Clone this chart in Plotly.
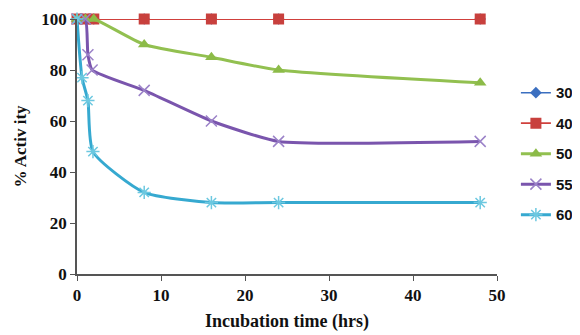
import plotly.graph_objects as go

t_a = [0, 1, 2, 8, 16, 24, 48]
v30 = [100, 100, 100, 100, 100, 100, 100]
v40 = [100, 100, 100, 100, 100, 100, 100]
v50 = [100, 100, 100, 90, 85, 80, 75]
t55 = [0, 1, 1.3, 1.8, 8, 16, 24, 48]
v55 = [100, 100, 86, 80, 72, 60, 52, 52]
t60 = [0, 0.6, 1.3, 1.9, 8, 16, 24, 48]
v60 = [100, 77, 68, 48, 32, 28, 28, 28]

x_ticks = [0, 10, 20, 30, 40, 50]
y_ticks = [0, 20, 40, 60, 80, 100]

fig = go.Figure()
fig.add_trace(go.Scatter(x=t_a, y=v30, name="<b>30</b>", legendgroup="a", mode="lines+markers",
    line=dict(color="#3b6fc0", width=1.5),
    marker=dict(symbol="diamond", size=9, color="#3b6fc0"), cliponaxis=False))
fig.add_trace(go.Scatter(x=t_a, y=v40, name="<b>40</b>", legendgroup="b", mode="lines+markers",
    line=dict(color="#d0403c", width=1.8),
    marker=dict(symbol="square", size=11, color="#c8403d"), cliponaxis=False))
fig.add_trace(go.Scatter(x=t_a, y=v50, name="<b>50</b>", legendgroup="c", mode="lines+markers",
    line=dict(color="#92c050", width=3, shape="spline", smoothing=0.6),
    marker=dict(symbol="triangle-up", size=11, color="#8cbb48"), cliponaxis=False))
fig.add_trace(go.Scatter(x=t55, y=v55, name="<b>55</b>", legendgroup="d", mode="lines+markers",
    line=dict(color="#7a55ad", width=3, shape="spline", smoothing=0.5),
    marker=dict(symbol="x-thin-open", size=11, color="#9b82c8",
                line=dict(width=1.5, color="#9b82c8")), cliponaxis=False))
fig.add_trace(go.Scatter(x=t60, y=v60, name="<b>60</b>", legendgroup="e", mode="lines+markers",
    line=dict(color="#36a9d0", width=3, shape="spline", smoothing=0.6),
    marker=dict(symbol="asterisk-open", size=11, color="#6cc8e0",
                line=dict(width=1.5, color="#6cc8e0")), cliponaxis=False))

tickfont = dict(family="Liberation Serif", size=17, color="#111")
fig.update_layout(
    width=572, height=327,
    margin=dict(l=69, r=83, t=11, b=61, autoexpand=False),
    paper_bgcolor="white", plot_bgcolor="white",
    font=dict(family="Liberation Serif", color="#111"),
    showlegend=True,
    legend=dict(x=1.045, y=0.775, xanchor="left", yanchor="top",
                font=dict(family="Liberation Sans Narrow, Liberation Sans", size=15, color="#111"),
                tracegroupgap=8, itemwidth=30, bgcolor="rgba(0,0,0,0)"),
    xaxis=dict(range=[0, 50], tickvals=x_ticks, ticktext=[f"<b>{v}</b>" for v in x_ticks],
               showgrid=False, zeroline=False, showline=True, linecolor="#555", linewidth=1.5,
               ticks="outside", ticklen=5, tickcolor="#555", tickfont=tickfont, automargin=False,
               title=dict(text="<b>Incubation time (hrs)</b>",
                          font=dict(family="Liberation Serif", size=18, color="#111"), standoff=10)),
    yaxis=dict(range=[0, 100], tickvals=y_ticks, ticktext=[f"<b>{v}</b>" for v in y_ticks],
               showgrid=False, zeroline=False, showline=True, linecolor="#555", linewidth=1.5,
               ticks="outside", ticklen=5, tickcolor="#555", tickfont=tickfont, automargin=False,
               title=dict(text="<b>% Activ ity</b>",
                          font=dict(family="Liberation Serif", size=17, color="#111"), standoff=10)),
)
fig.write_html("out.html")
